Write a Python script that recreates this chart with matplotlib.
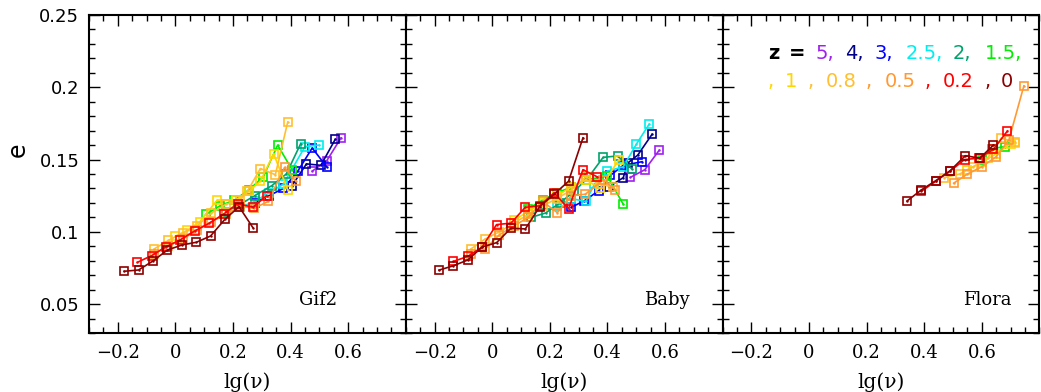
import matplotlib
matplotlib.use("Agg")
import matplotlib.pyplot as plt
from matplotlib.ticker import MultipleLocator, FormatStrFormatter, FixedLocator, FuncFormatter

# redshift order and line colours
redshifts = [5, 4, 3, 2.5, 2, 1.5, 1, 0.8, 0.5, 0.2, 0]
colours = {5: '#A020F0', 4: '#00008B', 3: '#0000FF', 2.5: '#00EEEE', 2: '#00A36C',
           1.5: '#00EE00', 1: '#FFD700', 0.8: '#FFBF30', 0.5: '#FF9933',
           0.2: '#FF0000', 0: '#8B0000'}

# lg(nu) and e per redshift, one table per simulation
gif2 = {
    5: ([0.475, 0.525, 0.575], [0.142, 0.149, 0.165]),
    4: ([0.405, 0.455, 0.505, 0.555], [0.132, 0.147, 0.146, 0.164]),
    3: ([0.275, 0.325, 0.375, 0.425, 0.475, 0.525], [0.120, 0.125, 0.130, 0.142, 0.158, 0.145]),
    2.5: ([0.225, 0.275, 0.325, 0.375, 0.45, 0.50], [0.117, 0.121, 0.127, 0.133, 0.159, 0.160]),
    2: ([0.175, 0.225, 0.275, 0.335, 0.385, 0.435], [0.114, 0.119, 0.125, 0.132, 0.140, 0.161]),
    1.5: ([0.105, 0.155, 0.205, 0.255, 0.305, 0.355, 0.405],
          [0.112, 0.118, 0.122, 0.129, 0.138, 0.160, 0.143]),
    1: ([0.0, 0.04, 0.085, 0.145, 0.21, 0.255, 0.295, 0.341, 0.39],
        [0.097, 0.101, 0.107, 0.122, 0.122, 0.128, 0.135, 0.154, 0.129]),
    0.8: ([-0.075, -0.025, 0.025, 0.075, 0.125, 0.175, 0.225, 0.25, 0.295, 0.347, 0.39],
          [0.088, 0.094, 0.099, 0.104, 0.113, 0.119, 0.122, 0.128, 0.1438, 0.1395, 0.176]),
    0.5: ([-0.075, -0.025, 0.025, 0.075, 0.125, 0.175, 0.225, 0.272, 0.322, 0.379, 0.418],
          [0.085, 0.090, 0.095, 0.101, 0.107, 0.112, 0.118, 0.1162, 0.121, 0.1446, 0.135]),
    0.2: ([-0.132, -0.083, -0.032, 0.016, 0.067, 0.117, 0.168, 0.216, 0.269, 0.317],
          [0.0789, 0.0835, 0.0897, 0.0944, 0.1006, 0.1059, 0.1124, 0.1195, 0.117, 0.125]),
    0: ([-0.178, -0.128, -0.078, -0.028, 0.023, 0.073, 0.122, 0.172, 0.221, 0.269],
        [0.0727, 0.0736, 0.0798, 0.0874, 0.0909, 0.0928, 0.0971, 0.1087, 0.1174, 0.1029]),
}

baby = {
    5: ([0.48, 0.53, 0.58], [0.1377, 0.143, 0.1565]),
    4: ([0.405, 0.455, 0.47, 0.505, 0.555], [0.131, 0.1375, 0.1475, 0.153, 0.1675]),
    3: ([0.275, 0.32, 0.37, 0.41, 0.455, 0.52], [0.117, 0.1215, 0.1285, 0.139, 0.146, 0.1485]),
    2.5: ([0.225, 0.275, 0.325, 0.355, 0.40, 0.455, 0.50, 0.545],
          [0.118, 0.123, 0.121, 0.133, 0.142, 0.145, 0.1605, 0.1745]),
    2: ([0.135, 0.185, 0.235, 0.285, 0.335, 0.385, 0.435, 0.485],
        [0.110, 0.113, 0.120, 0.128, 0.138, 0.1515, 0.1525, 0.1435]),
    1.5: ([0.125, 0.175, 0.225, 0.275, 0.325, 0.40, 0.455],
          [0.116, 0.122, 0.127, 0.131, 0.136, 0.1385, 0.119]),
    1: ([0.075, 0.125, 0.175, 0.225, 0.275, 0.325, 0.375, 0.44],
        [0.108, 0.114, 0.120, 0.125, 0.131, 0.136, 0.130, 0.150]),
    0.8: ([-0.075, -0.025, 0.025, 0.075, 0.125, 0.175, 0.225, 0.275, 0.325, 0.375, 0.42],
          [0.088, 0.095, 0.100, 0.106, 0.112, 0.118, 0.123, 0.129, 0.138, 0.133, 0.131]),
    0.5: ([-0.075, -0.025, 0.025, 0.075, 0.125, 0.175, 0.226, 0.275, 0.323, 0.386, 0.427],
          [0.085, 0.088, 0.098, 0.104, 0.110, 0.121, 0.1133, 0.125, 0.126, 0.136, 0.129]),
    0.2: ([-0.135, -0.085, -0.035, 0.015, 0.065, 0.115, 0.165, 0.215, 0.265, 0.315, 0.365],
          [0.0795, 0.083, 0.0895, 0.105, 0.106, 0.117, 0.118, 0.127, 0.116, 0.143, 0.138]),
    0: ([-0.185, -0.135, -0.085, -0.035, 0.015, 0.065, 0.115, 0.165, 0.215, 0.265, 0.315],
        [0.0735, 0.0765, 0.0805, 0.0895, 0.0925, 0.1025, 0.102, 0.1175, 0.126, 0.135, 0.165]),
}

flora = {
    1.5: ([0.60, 0.635, 0.68], [0.150, 0.1575, 0.159]),
    1: ([0.55, 0.60, 0.65, 0.70, 0.714], [0.143, 0.148, 0.154, 0.161, 0.1617]),
    0.8: ([0.47, 0.523, 0.57, 0.62, 0.668, 0.715], [0.1375, 0.140, 0.145, 0.151, 0.1649, 0.162]),
    0.5: ([0.502, 0.55, 0.60, 0.65, 0.694, 0.746], [0.1336, 0.140, 0.145, 0.152, 0.1636, 0.201]),
    0.2: ([0.39, 0.44, 0.49, 0.54, 0.59, 0.64, 0.689], [0.128, 0.135, 0.142, 0.150, 0.151, 0.157, 0.1698]),
    0: ([0.34, 0.39, 0.44, 0.49, 0.543, 0.593, 0.64], [0.1213, 0.129, 0.1354, 0.1423, 0.1527, 0.1509, 0.160]),
}

panels = [gif2, baby, flora]
names = ['Gif2', 'Baby', 'Flora']
name_pos = [0.724, 0.823, 0.835]


def xfmt(v, pos):
    return ('%g' % v).replace('-', '\u2212')


fig = plt.figure(figsize=(10.41, 3.92), dpi=100)
axes = fig.subplots(1, 3, sharey=True, gridspec_kw=dict(wspace=0))
fig.subplots_adjust(left=0.0855, right=0.9985, top=0.9617, bottom=0.1505)

for ax, data, name, npos in zip(axes, panels, names, name_pos):
    for z in redshifts:
        if z not in data:
            continue
        x, y = data[z]
        c = colours[z]
        ax.plot(x, y, color=c, lw=1.2, marker='s', ms=6, mfc='none', mec=c, mew=1.2)
        ax.plot(x, y, ls='none', marker='.', ms=1.5, color=c)

    ax.set_xlim(-0.3, 0.8)
    ax.set_ylim(0.03, 0.25)
    ax.xaxis.set_major_locator(FixedLocator([-0.2, 0.0, 0.2, 0.4, 0.6]))
    ax.xaxis.set_minor_locator(MultipleLocator(0.05))
    ax.xaxis.set_major_formatter(FuncFormatter(xfmt))
    ax.yaxis.set_major_locator(MultipleLocator(0.05))
    ax.yaxis.set_minor_locator(MultipleLocator(0.01))
    ax.yaxis.set_major_formatter(FormatStrFormatter('%g'))
    ax.tick_params(which='both', direction='in', top=True, right=True, width=1.0)
    ax.tick_params(which='major', length=8)
    ax.tick_params(which='minor', length=4)
    ax.tick_params(axis='x', pad=8)
    ax.tick_params(axis='y', pad=7)
    for lab in ax.get_xticklabels():
        lab.set_family('DejaVu Serif')
        lab.set_fontsize(13)
    for lab in ax.get_yticklabels():
        lab.set_family('DejaVu Sans')
        lab.set_fontsize(13)
    for sp in ax.spines.values():
        sp.set_linewidth(1.5)

    ax.set_xlabel('lg(ν)', family='DejaVu Serif', fontsize=14.5, va='center')
    ax.xaxis.set_label_coords(0.5, -0.154)
    ax.text(npos, 0.104, name, transform=ax.transAxes, ha='center', va='center',
            family='DejaVu Serif', fontsize=13)

axes[1].tick_params(labelleft=False)
axes[2].tick_params(labelleft=False)

fig.text(18 / 1041, 1 - 150 / 392, 'e', rotation=90, ha='center', va='center',
         family='DejaVu Sans', fontsize=17)

# redshift key in the last panel
key_row1 = [('z', 'black', 775, True), ('=', 'black', 798, True),
            ('5,', colours[5], 826, False), ('4,', colours[4], 855, False),
            ('3,', colours[3], 885, False), ('2.5,', colours[2.5], 925, False),
            ('2,', colours[2], 963, False), ('1.5,', colours[1.5], 1004, False)]
key_row2 = [(',', colours[1], 772), ('1', colours[1], 792),
            (',', colours[0.8], 812), ('0.8', colours[0.8], 842),
            (',', colours[0.5], 870), ('0.5', colours[0.5], 901),
            (',', colours[0.2], 928), ('0.2', colours[0.2], 959),
            (',', colours[0], 988), ('0', colours[0], 1008)]

ax3 = axes[2]
for txt, c, px, bold in key_row1:
    ax3.text((px - 724) / 316, (333 - 53) / 318, txt, color=c, transform=ax3.transAxes,
             ha='center', va='center', family='DejaVu Sans', fontsize=14,
             fontweight='bold' if bold else 'normal')
for txt, c, px in key_row2:
    ax3.text((px - 724) / 316, (333 - 81) / 318, txt, color=c, transform=ax3.transAxes,
             ha='center', va='center', family='DejaVu Sans', fontsize=14)

fig.savefig('out.png', dpi=100)
